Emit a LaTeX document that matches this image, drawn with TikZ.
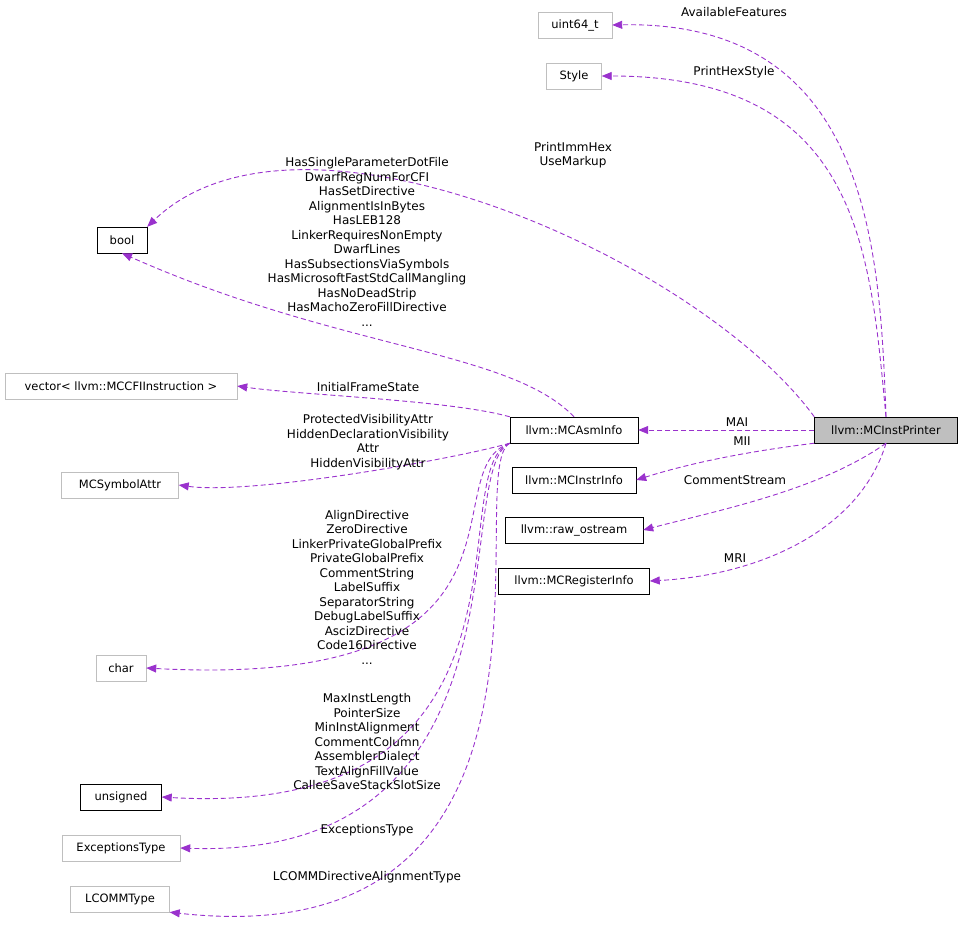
\documentclass[tikz,border=0pt]{standalone}
\usepackage{fontspec}
\setmainfont{DejaVu Sans}
\usetikzlibrary{arrows.meta}
\definecolor{ep}{HTML}{9A32CD}
\begin{document}
\begin{tikzpicture}[x=1pt,y=-1pt,
 box/.style={draw=#1,fill=white,inner sep=0pt,minimum height=26pt,font=\fontsize{11.5}{13}\selectfont},
 box/.default={black!25},
 e/.style={draw=ep,line width=0.9pt,dash pattern=on 5pt off 3pt,-{Triangle[length=10pt,width=8pt]},fill=none},
 lb/.style={font=\fontsize{12}{14.5}\selectfont,align=center,inner sep=0pt}]
\useasboundingbox (0,0) rectangle (963,943);
\node[box,minimum width=74pt] (u64) at (575,25) {uint64\_t};
\node[box,minimum width=55pt] (sty) at (574,76) {Style};
\node[box=black,minimum width=50pt] (bool) at (122,240) {bool};
\node[box,minimum width=232pt] (vec) at (121,386) {vector< llvm::MCCFIInstruction >};
\node[box,minimum width=117pt] (sym) at (120,485) {MCSymbolAttr};
\node[box,minimum width=50pt] (char) at (121,668) {char};
\node[box=black,minimum width=81pt] (uns) at (121,797) {unsigned};
\node[box,minimum width=118pt] (exc) at (121,848) {ExceptionsType};
\node[box,minimum width=99pt] (lcm) at (120,899) {LCOMMType};
\node[box=black,minimum width=128pt] (asm) at (574,430) {llvm::MCAsmInfo};
\node[box=black,minimum width=124pt] (ii) at (574,480) {llvm::MCInstrInfo};
\node[box=black,minimum width=138pt] (ros) at (574,530) {llvm::raw\_ostream};
\node[box=black,minimum width=151pt] (ri) at (574,581) {llvm::MCRegisterInfo};
\node[box=black,fill=black!25,minimum width=143pt] (ip) at (886,430) {llvm::MCInstPrinter};
% from printer
\draw[e] (ip.north) .. controls (880,250) and (870,20) .. (u64.east);
\draw[e] (ip.north) .. controls (870,250) and (860,76) .. (sty.east);
\draw[e] (ip.north west) .. controls (700,260) and (300,80) .. (bool.north east);
\draw[e] (ip.west) -- (asm.east);
\draw[e] (ip.south west) .. controls (760,450) and (700,460) .. (ii.east);
\draw[e] (ip.south) .. controls (820,490) and (720,510) .. (ros.east);
\draw[e] (ip.south) .. controls (860,530) and (760,575) .. (ri.east);
\node[lb] at (734,12) {AvailableFeatures};
\node[lb] at (734,72) {PrintHexStyle};
\node[lb] at (573,155) {PrintImmHex\\UseMarkup};
\node[lb] at (737,422) {MAI};
\node[lb] at (742,441) {MII};
\node[lb] at (735,480) {CommentStream};
\node[lb] at (735,558) {MRI};
% from asminfo
\draw[e] (asm.north) .. controls (510,350) and (340,350) .. (bool.south);
\draw[e] (asm.north west) .. controls (450,400) and (300,395) .. (vec.east);
\draw[e] (asm.south west) .. controls (450,460) and (250,495) .. (sym.east);
\draw[e] (asm.south west) .. controls (430,470) and (560,690) .. (char.east);
\draw[e] (asm.south west) .. controls (440,470) and (560,820) .. (uns.east);
\draw[e] (asm.south west) .. controls (450,470) and (540,860) .. (exc.east);
\draw[e] (asm.south west) .. controls (460,470) and (600,960) .. (lcm.south east);
\node[lb] at (367,242) {HasSingleParameterDotFile\\DwarfRegNumForCFI\\HasSetDirective\\AlignmentIsInBytes\\HasLEB128\\LinkerRequiresNonEmpty\\DwarfLines\\HasSubsectionsViaSymbols\\HasMicrosoftFastStdCallMangling\\HasNoDeadStrip\\HasMachoZeroFillDirective\\...};
\node[lb] at (368,387) {InitialFrameState};
\node[lb] at (368,442) {ProtectedVisibilityAttr\\HiddenDeclarationVisibility\\Attr\\HiddenVisibilityAttr};
\node[lb] at (367,587) {AlignDirective\\ZeroDirective\\LinkerPrivateGlobalPrefix\\PrivateGlobalPrefix\\CommentString\\LabelSuffix\\SeparatorString\\DebugLabelSuffix\\AscizDirective\\Code16Directive\\...};
\node[lb] at (367,742) {MaxInstLength\\PointerSize\\MinInstAlignment\\CommentColumn\\AssemblerDialect\\TextAlignFillValue\\CalleeSaveStackSlotSize};
\node[lb] at (367,830) {ExceptionsType};
\node[lb] at (367,877) {LCOMMDirectiveAlignmentType};
\end{tikzpicture}
\end{document}
